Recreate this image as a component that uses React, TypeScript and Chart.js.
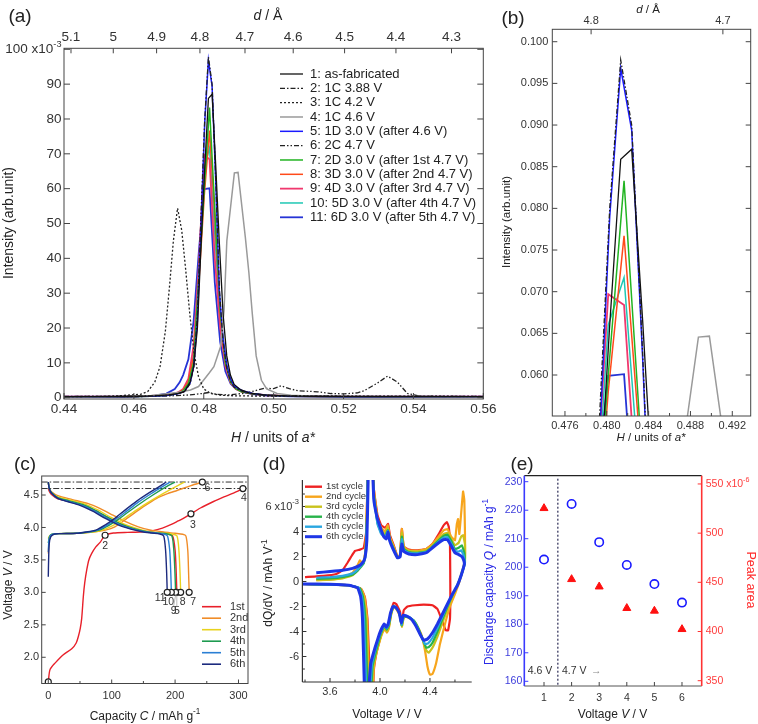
import React, { useEffect, useRef } from "react";
import { Chart, registerables } from "chart.js";
Chart.register(...registerables);

const FONT = '"Liberation Sans", Arial, Helvetica, "DejaVu Sans", sans-serif';

// ================= (a)/(b) XRD data: H (units of a*) vs intensity (x10^-3) =================
const A_LABELS = [
  "1: as-fabricated", "2: 1C 3.88 V", "3: 1C 4.2 V", "4: 1C 4.6 V", "5: 1D 3.0 V (after 4.6 V)",
  "6: 2C 4.7 V", "7: 2D 3.0 V (after 1st 4.7 V)", "8: 3D 3.0 V (after 2nd 4.7 V)",
  "9: 4D 3.0 V (after 3rd 4.7 V)", "10: 5D 3.0 V (after 4th 4.7 V)", "11: 6D 3.0 V (after 5th 4.7 V)",
];
const A_S1: number[][] = [[0.44,0.3],[0.45,0.3],[0.46,0.35],[0.466,0.5],[0.47,0.8],[0.4725,1.2],[0.4745,1.8],[0.4761,4.5],[0.47713,9],[0.47818,20],[0.47923,44],[0.48028,66],[0.48133,85.9],[0.48238,87.1],[0.48343,66.5],[0.48448,44],[0.48553,24],[0.48658,12],[0.48763,6.5],[0.4887,3.8],[0.4905,2.3],[0.493,1.4],[0.497,0.8],[0.503,0.5],[0.51,0.4],[0.53,0.3],[0.56,0.3]];
const A_S2: number[][] = [[0.44,0.4],[0.455,0.4],[0.465,0.5],[0.47,0.7],[0.4725,1.1],[0.4745,1.7],[0.4761,4],[0.47713,9],[0.47818,24],[0.47923,53],[0.48028,80],[0.48133,97.8],[0.48238,90],[0.48343,62.5],[0.48448,31],[0.48553,16],[0.48658,8.5],[0.48763,4.8],[0.4887,3.0],[0.491,1.8],[0.494,1.1],[0.498,0.7],[0.505,0.5],[0.52,0.4],[0.56,0.4]];
const A_S3: number[][] = [[0.44,0.3],[0.45,0.4],[0.455,0.5],[0.459,0.8],[0.462,1.0],[0.464,1.8],[0.466,4.5],[0.4675,9],[0.469,19],[0.4702,32],[0.4713,45],[0.4725,54.4],[0.4737,48],[0.4748,37],[0.476,24],[0.4772,13],[0.4785,6],[0.48,2.5],[0.482,1.2],[0.485,0.7],[0.49,0.5],[0.56,0.4]];
const A_S4: number[][] = [[0.44,0.3],[0.455,0.35],[0.465,0.6],[0.4724,1.5],[0.4762,2.2],[0.4785,3.2],[0.4801,5.2],[0.4815,7],[0.4829,8.9],[0.4848,14.6],[0.4858,25],[0.4866,45],[0.48876,64.55],[0.48981,64.66],[0.4919,46],[0.4929,36],[0.4939,24],[0.495,12],[0.4965,5],[0.498,2.5],[0.501,1.2],[0.505,0.7],[0.51,0.5],[0.56,0.3]];
const A_S5: number[][] = [[0.44,0.3],[0.455,0.3],[0.465,0.45],[0.47,0.7],[0.4725,1.1],[0.4745,1.8],[0.4761,4.2],[0.47713,9],[0.47818,22],[0.47923,50],[0.48028,79],[0.48133,96.8],[0.48238,89.4],[0.48343,62],[0.48448,30],[0.48553,17],[0.48658,9.5],[0.48763,5.5],[0.4887,3.4],[0.491,2.0],[0.494,1.2],[0.498,0.7],[0.505,0.45],[0.52,0.3],[0.56,0.3]];
const A_S6: number[][] = [[0.44,0.3],[0.46,0.3],[0.47,0.5],[0.476,0.8],[0.4795,1.2],[0.4815,1.5],[0.4835,1.0],[0.487,0.8],[0.491,1.2],[0.4935,1.7],[0.4973,2.7],[0.5,2.6],[0.5021,3.4],[0.5045,2.6],[0.5069,2.0],[0.5126,1.7],[0.5164,1.2],[0.5202,1.1],[0.524,1.4],[0.5259,2.0],[0.5297,4.2],[0.5326,6.2],[0.5354,4.5],[0.5383,1.2],[0.5421,0.4],[0.56,0.2]];
const A_S7: number[][] = [[0.44,0.3],[0.455,0.3],[0.465,0.45],[0.47,0.7],[0.4726,1.3],[0.4741,2.0],[0.4756,4],[0.4771,10],[0.4786,35],[0.48014,60],[0.48165,83.3],[0.48316,54],[0.4847,25],[0.4862,10],[0.4877,4.5],[0.4892,2.6],[0.4907,1.8],[0.494,1.1],[0.498,0.7],[0.505,0.45],[0.52,0.3],[0.56,0.3]];
const A_S8: number[][] = [[0.44,0.3],[0.455,0.3],[0.465,0.45],[0.47,0.75],[0.4726,1.4],[0.4741,2.2],[0.4756,4.6],[0.4771,12],[0.4786,33],[0.48014,58],[0.48165,76.7],[0.48316,52],[0.4847,24],[0.4862,10],[0.4877,4.5],[0.4892,2.6],[0.4907,1.8],[0.494,1.1],[0.498,0.7],[0.505,0.45],[0.52,0.3],[0.56,0.3]];
const A_S9: number[][] = [[0.44,0.3],[0.455,0.3],[0.465,0.5],[0.47,0.8],[0.4726,1.5],[0.4741,2.5],[0.4756,5.5],[0.4771,15],[0.4786,38],[0.48014,69.7],[0.48165,68.4],[0.48316,40],[0.4847,20],[0.4862,9],[0.4877,4.3],[0.4892,2.5],[0.4907,1.8],[0.494,1.1],[0.498,0.7],[0.505,0.45],[0.52,0.3],[0.56,0.3]];
const A_S10: number[][] = [[0.44,0.3],[0.455,0.3],[0.465,0.45],[0.47,0.75],[0.4726,1.4],[0.4741,2.2],[0.4756,4.8],[0.4771,12],[0.4786,36],[0.48014,66],[0.48165,71.7],[0.48316,47],[0.4847,22],[0.4862,9.5],[0.4877,4.4],[0.4892,2.6],[0.4907,1.8],[0.494,1.1],[0.498,0.7],[0.505,0.45],[0.52,0.3],[0.56,0.3]];
const A_S11: number[][] = [[0.44,0.3],[0.455,0.3],[0.462,0.45],[0.4661,0.6],[0.4693,1.2],[0.4717,2.5],[0.4731,4.4],[0.4741,6.5],[0.4756,11],[0.4771,22],[0.4786,42],[0.48014,59.9],[0.48165,60.1],[0.48316,33],[0.4847,16],[0.4862,7.5],[0.4877,4],[0.4892,2.5],[0.491,1.7],[0.494,1.0],[0.498,0.6],[0.505,0.4],[0.52,0.3],[0.56,0.3]];
const A_SERIES = [A_S1, A_S2, A_S3, A_S4, A_S5, A_S6, A_S7, A_S8, A_S9, A_S10, A_S11];
const A_COLORS = ["#111111", "#222222", "#222222", "#9a9a9a", "#1a1aff", "#222222", "#22b422", "#ff4a1a", "#f0386e", "#1ec8b4", "#2634d6"];
const A_WIDTHS = [1.3, 1.3, 1.3, 1.5, 1.5, 1.3, 1.5, 1.5, 1.8, 1.5, 1.8];
const A_DASHES = [[], [5, 2, 1.5, 2], [2, 2], [], [], [5, 2, 1.5, 2, 1.5, 2], [], [], [], [], []];

const H_TICKS_A = [0.44, 0.46, 0.48, 0.5, 0.52, 0.54, 0.56];
const I_TICKS_A = [0, 10, 20, 30, 40, 50, 60, 70, 80, 90, 100];
const D_TICK_LABELS_A = ["5.1", "5", "4.9", "4.8", "4.7", "4.6", "4.5", "4.4", "4.3"];
const D_TICK_H_A = [0.442, 0.4541, 0.4665, 0.4789, 0.4918, 0.5056, 0.5203, 0.535, 0.5509];
const H_TICKS_B = [0.476, 0.48, 0.484, 0.488, 0.492];
const H_MINOR_B = [0.478, 0.482, 0.486, 0.49];
const I_TICKS_B = [60, 65, 70, 75, 80, 85, 90, 95, 100];
const D_TICK_LABELS_B = ["4.8", "4.7"];
const D_TICK_H_B = [0.4785, 0.4911];

// ================= (c) charge / discharge curves: capacity (mAh/g) vs voltage =================
const CYCLE_NAMES = ["1st", "2nd", "3rd", "4th", "5th", "6th"];
const C_COLORS = ["#e8202a", "#f08c28", "#e8d21e", "#1e9a50", "#2a7fd4", "#1c2a7e"];
const C1_CH: number[][] = [[0,1.62],[2.7,1.81],[10.6,1.91],[23.7,2.04],[37,2.13],[44,2.22],[47.4,2.32],[50.5,2.45],[52.7,2.6],[55.3,2.94],[57.5,3.15],[60.7,3.35],[64,3.5],[68.5,3.6],[75,3.7],[81.7,3.77],[89.6,3.88],[102.7,3.915],[125,3.925],[145,3.93],[165,3.95],[180,3.99],[195,4.05],[205,4.1],[215,4.15],[225,4.21],[240,4.3],[260.7,4.4],[277,4.47],[292,4.53],[307,4.6]];
const C2_CH: number[][] = [[0,3.6],[1,3.75],[3,3.86],[8,3.9],[20,3.905],[45,3.91],[70,3.93],[90,3.96],[105,4.01],[124,4.14],[150,4.32],[171,4.45],[188,4.52],[203,4.57],[225,4.645],[243,4.7]];
const C3_CH: number[][] = [[0,3.83],[2,3.87],[6,3.895],[15,3.905],[45,3.91],[70,3.93],[85,3.96],[100,4.02],[115,4.11],[130,4.21],[150,4.34],[170,4.46],[190,4.57],[205,4.65],[215,4.7]];
const C4_CH: number[][] = [[0,3.76],[2,3.86],[6,3.895],[15,3.905],[45,3.91],[65,3.93],[80,3.96],[95,4.03],[110,4.12],[125,4.23],[145,4.37],[165,4.5],[185,4.62],[200,4.7]];
const C5_CH: number[][] = [[0,3.62],[1,3.8],[3,3.87],[8,3.9],[20,3.905],[45,3.91],[62,3.93],[77,3.96],[92,4.03],[107,4.13],[122,4.24],[142,4.39],[162,4.52],[180,4.63],[192,4.7]];
const C6_CH: number[][] = [[0,3.24],[0.5,3.5],[1.5,3.75],[4,3.86],[10,3.9],[20,3.905],[45,3.91],[60,3.93],[75,3.96],[90,4.04],[105,4.14],[120,4.26],[140,4.41],[160,4.54],[175,4.63],[186,4.7]];
const C1_DC: number[][] = [[0,4.6],[2,4.55],[6,4.5],[15,4.44],[33,4.4],[52,4.35],[72,4.27],[92,4.16],[112,4.06],[132,3.99],[152,3.94],[172,3.915],[188,3.9],[196,3.87],[200,3.65],[201.8,3.3],[202.7,3.0]];
const C2_DC: number[][] = [[0,4.7],[1.5,4.6],[5,4.55],[15,4.49],[38,4.43],[62,4.37],[82,4.29],[102,4.19],[122,4.09],[142,4.01],[162,3.96],[182,3.93],[200,3.91],[212,3.895],[217,3.87],[220,3.65],[221.3,3.3],[222.2,3.0]];
const C3_DC: number[][] = [[0,4.7],[1.5,4.6],[5,4.54],[15,4.47],[35,4.42],[58,4.36],[78,4.27],[98,4.16],[118,4.06],[138,3.99],[158,3.94],[178,3.915],[195,3.9],[203,3.87],[206,3.65],[207.8,3.3],[208.8,3.0]];
const C4_DC: number[][] = [[0,4.7],[1.5,4.6],[5,4.54],[15,4.46],[33,4.41],[55,4.35],[75,4.26],[95,4.15],[115,4.05],[135,3.98],[155,3.935],[172,3.915],[188,3.9],[195,3.87],[198,3.65],[199.8,3.3],[200.8,3.0]];
const C5_DC: number[][] = [[0,4.7],[1.5,4.6],[5,4.53],[15,4.45],[32,4.4],[53,4.34],[73,4.25],[93,4.14],[113,4.04],[133,3.975],[152,3.935],[168,3.915],[182,3.9],[188,3.87],[191.5,3.65],[193.2,3.3],[194.1,3.0]];
const C6_DC: number[][] = [[0,4.7],[1.5,4.6],[5,4.53],[15,4.45],[30,4.4],[50,4.34],[70,4.25],[90,4.14],[110,4.04],[130,3.975],[148,3.935],[163,3.915],[176,3.9],[182,3.87],[185,3.65],[186.7,3.3],[187.6,3.0]];
const C_CHARGE = [C1_CH, C2_CH, C3_CH, C4_CH, C5_CH, C6_CH];
const C_DISCHARGE = [C1_DC, C2_DC, C3_DC, C4_DC, C5_DC, C6_DC];
const C_REF_V = [4.6, 4.7];
const MK_C = [0, 89.6, 225, 307, 202.7, 243, 222.2, 208.8, 200.8, 194.1, 187.6];
const MK_V = [1.62, 3.88, 4.21, 4.6, 3.0, 4.7, 3.0, 3.0, 3.0, 3.0, 3.0];
const MK_LABEL = ["", "2", "3", "4", "5", "6", "7", "8", "9", "10", "11"];
const MK_OFFSET = [[0, 0], [0, 11], [2, 11], [1, 10], [0, 19], [5, 6], [4, 10], [2, 10], [-2, 19], [-3, 10], [-7, 6]];

// ================= (d) dQ/dV (x10^-3 mAh/V) vs voltage, one loop per cycle =================
const D_COLORS = ["#ee2222", "#f7a51c", "#c9c21c", "#28b34a", "#2aa6e0", "#1e36e6"];
const D_CYC1: number[][] = [[3.4,0.35],[3.55,0.45],[3.65,0.6],[3.7,0.9],[3.74,1.5],[3.77,2.0],[3.8,2.45],[3.84,2.55],[3.87,2.7],[3.89,4],[3.905,10],[3.915,20],[3.93,12],[3.95,7.5],[3.98,5.3],[4.01,4.5],[4.04,4.3],[4.065,4.6],[4.08,3.7],[4.11,2.9],[4.14,2.0],[4.16,2.1],[4.175,4.2],[4.19,2.8],[4.23,2.55],[4.3,2.5],[4.37,2.6],[4.42,3.0],[4.47,3.8],[4.51,4.5],[4.535,4.75],[4.55,4.4],[4.56,3.0],[4.562,1.0],[4.563,-1.0],[4.56,-3.0],[4.545,-3.9],[4.525,-3.9],[4.5,-3.2],[4.46,-2.2],[4.42,-1.9],[4.35,-1.85],[4.28,-1.9],[4.22,-2.0],[4.19,-2.3],[4.175,-3.3],[4.16,-2.4],[4.13,-1.8],[4.11,-1.7],[4.09,-2.3],[4.07,-3.6],[4.05,-3.9],[4.035,-3.6],[4.02,-3.9],[4.0,-4.6],[3.97,-5.8],[3.95,-7.2],[3.935,-12],[3.92,-8],[3.9,-3],[3.88,-1.3],[3.85,-0.6],[3.75,-0.3],[3.6,-0.25],[3.38,-0.2]];
const D_CYC2: number[][] = [[3.49,0.1],[3.6,0.15],[3.7,0.3],[3.78,0.7],[3.82,1.3],[3.84,1.7],[3.855,1.5],[3.87,1.6],[3.885,2.8],[3.9,8],[3.912,20],[3.93,13],[3.95,7.5],[3.98,5.0],[4.01,4.3],[4.04,4.0],[4.062,4.5],[4.078,3.6],[4.11,2.8],[4.14,2.0],[4.16,2.1],[4.175,4.2],[4.19,2.8],[4.23,2.5],[4.3,2.45],[4.37,2.6],[4.42,3.0],[4.47,3.6],[4.51,4.1],[4.54,4.2],[4.57,3.6],[4.6,3.3],[4.615,4.6],[4.625,5.0],[4.635,3.8],[4.65,5.5],[4.665,7.2],[4.675,6.5],[4.68,4.0],[4.68,1.8],[4.66,0.8],[4.63,-0.2],[4.6,-1.0],[4.56,-2.0],[4.52,-3.4],[4.48,-5.0],[4.45,-6.5],[4.42,-7.4],[4.4,-7.45],[4.38,-6.8],[4.36,-5.5],[4.33,-4.2],[4.29,-3.4],[4.25,-3.0],[4.21,-2.8],[4.19,-2.9],[4.175,-3.6],[4.16,-2.8],[4.13,-2.2],[4.11,-2.0],[4.09,-2.6],[4.07,-3.8],[4.055,-4.1],[4.04,-3.8],[4.02,-4.1],[4.0,-4.7],[3.97,-5.8],[3.95,-7.0],[3.925,-12],[3.912,-8],[3.897,-3],[3.878,-1.3],[3.85,-0.6],[3.75,-0.3],[3.6,-0.25],[3.38,-0.2]];
const D_CYC3: number[][] = [[3.49,0.1],[3.6,0.15],[3.7,0.25],[3.78,0.5],[3.82,0.9],[3.85,1.3],[3.87,1.5],[3.885,2.5],[3.9,7],[3.913,20],[3.93,13],[3.95,7.2],[3.98,4.9],[4.01,4.1],[4.04,3.8],[4.063,4.3],[4.078,3.5],[4.11,2.7],[4.14,1.95],[4.16,2.05],[4.175,3.9],[4.19,2.7],[4.23,2.45],[4.3,2.4],[4.37,2.5],[4.42,2.9],[4.47,3.4],[4.51,3.8],[4.54,3.9],[4.57,3.4],[4.6,2.9],[4.63,3.1],[4.65,3.6],[4.665,3.7],[4.68,3.0],[4.68,1.6],[4.65,0.6],[4.62,-0.3],[4.58,-1.2],[4.54,-2.2],[4.5,-3.3],[4.46,-4.4],[4.42,-5.3],[4.39,-5.7],[4.37,-5.5],[4.34,-4.6],[4.3,-3.7],[4.26,-3.1],[4.22,-2.85],[4.19,-2.85],[4.175,-3.6],[4.16,-2.7],[4.13,-2.15],[4.11,-2.0],[4.09,-2.6],[4.07,-3.7],[4.055,-4.0],[4.04,-3.7],[4.02,-4.0],[4.0,-4.6],[3.97,-5.7],[3.945,-7.0],[3.92,-12],[3.905,-8],[3.89,-3],[3.87,-1.3],[3.84,-0.6],[3.75,-0.3],[3.6,-0.25],[3.38,-0.2]];
const D_CYC4: number[][] = [[3.49,0.2],[3.6,0.25],[3.7,0.35],[3.78,0.55],[3.82,0.85],[3.85,1.2],[3.87,1.45],[3.885,2.3],[3.9,6.5],[3.913,20],[3.93,12.5],[3.95,7.0],[3.98,4.7],[4.01,3.9],[4.04,3.6],[4.063,4.1],[4.078,3.35],[4.11,2.6],[4.14,1.9],[4.16,2.0],[4.175,3.6],[4.19,2.6],[4.23,2.35],[4.3,2.3],[4.37,2.4],[4.42,2.8],[4.47,3.3],[4.51,3.65],[4.54,3.75],[4.57,3.25],[4.6,2.6],[4.63,2.7],[4.655,2.9],[4.675,2.3],[4.68,1.5],[4.65,0.5],[4.62,-0.3],[4.58,-1.1],[4.54,-2.0],[4.5,-3.0],[4.46,-4.0],[4.42,-4.9],[4.39,-5.25],[4.37,-5.3],[4.345,-4.7],[4.31,-3.8],[4.27,-3.1],[4.23,-2.85],[4.19,-2.8],[4.173,-3.5],[4.158,-2.65],[4.13,-2.1],[4.11,-1.95],[4.09,-2.5],[4.07,-3.55],[4.053,-3.85],[4.038,-3.55],[4.02,-3.85],[4.0,-4.4],[3.97,-5.5],[3.94,-6.8],[3.912,-12],[3.898,-8],[3.883,-3],[3.863,-1.2],[3.84,-0.55],[3.75,-0.3],[3.6,-0.25],[3.38,-0.2]];
const D_CYC5: number[][] = [[3.49,0.3],[3.6,0.35],[3.7,0.45],[3.78,0.65],[3.82,0.95],[3.85,1.3],[3.87,1.55],[3.885,2.2],[3.9,6],[3.912,20],[3.93,12],[3.95,6.8],[3.98,4.6],[4.01,3.8],[4.04,3.5],[4.064,4.05],[4.078,3.3],[4.11,2.55],[4.14,1.9],[4.16,1.95],[4.175,3.4],[4.19,2.5],[4.23,2.3],[4.3,2.25],[4.37,2.35],[4.42,2.75],[4.47,3.2],[4.51,3.5],[4.54,3.55],[4.57,3.05],[4.6,2.45],[4.63,2.4],[4.65,2.5],[4.67,2.1],[4.68,1.5],[4.65,0.5],[4.62,-0.3],[4.58,-1.05],[4.54,-1.9],[4.5,-2.8],[4.46,-3.7],[4.42,-4.5],[4.385,-4.95],[4.36,-5.0],[4.335,-4.5],[4.3,-3.7],[4.26,-3.05],[4.22,-2.8],[4.19,-2.75],[4.172,-3.45],[4.157,-2.6],[4.13,-2.1],[4.108,-1.95],[4.088,-2.5],[4.068,-3.5],[4.052,-3.75],[4.036,-3.5],[4.018,-3.8],[3.998,-4.3],[3.965,-5.4],[3.935,-6.7],[3.9,-12],[3.888,-8],[3.872,-3],[3.855,-1.2],[3.83,-0.5],[3.75,-0.3],[3.6,-0.25],[3.38,-0.2]];
const D_CYC6: number[][] = [[3.49,0.7],[3.6,0.8],[3.7,0.9],[3.78,1.05],[3.83,1.25],[3.86,1.5],[3.88,1.9],[3.895,3.3],[3.905,8],[3.915,20],[3.93,12],[3.95,6.6],[3.975,5.2],[4.0,4.4],[4.03,3.6],[4.05,3.4],[4.065,3.95],[4.078,3.25],[4.1,2.7],[4.14,1.9],[4.16,1.95],[4.175,3.0],[4.19,2.4],[4.23,2.2],[4.3,2.15],[4.37,2.3],[4.42,2.7],[4.47,3.1],[4.51,3.35],[4.54,3.35],[4.57,2.85],[4.6,2.3],[4.63,2.15],[4.655,2.0],[4.67,1.7],[4.675,1.4],[4.65,0.5],[4.62,-0.3],[4.58,-1.0],[4.54,-1.8],[4.5,-2.6],[4.46,-3.4],[4.42,-4.1],[4.38,-4.6],[4.35,-4.7],[4.325,-4.3],[4.29,-3.6],[4.25,-3.0],[4.21,-2.75],[4.187,-2.7],[4.17,-3.3],[4.155,-2.55],[4.13,-2.1],[4.105,-2.0],[4.085,-2.5],[4.065,-3.4],[4.05,-3.65],[4.034,-3.4],[4.016,-3.7],[3.995,-4.2],[3.96,-5.3],[3.925,-6.6],[3.885,-12],[3.874,-8],[3.86,-3],[3.845,-1.2],[3.82,-0.5],[3.75,-0.3],[3.6,-0.22],[3.38,-0.2]];
const D_CYCLES = [D_CYC1, D_CYC2, D_CYC3, D_CYC4, D_CYC5, D_CYC6];

// ================= (e) discharge capacity and peak area per cycle =================
const E_CYCLE = [1, 2, 3, 4, 5, 6];
const E_CAPACITY = [202.7, 222.2, 208.8, 200.8, 194.1, 187.6];
const E_PEAK_AREA = [525.3, 453.1, 445.6, 423.7, 421.0, 402.3];

// ================= helpers =================
type Seg = { t: string; it?: boolean; sup?: boolean };
function rich(ctx: any, segs: Seg[], x: number, y: number, size: number, align: string, color: string, rot = 0) {
  ctx.save();
  ctx.translate(x, y);
  if (rot) ctx.rotate(rot);
  const fontFor = (s: Seg) => `${s.it ? "italic " : ""}${s.sup ? size * 0.68 : size}px ${FONT}`;
  let total = 0;
  const widths = segs.map((s) => { ctx.font = fontFor(s); const w = ctx.measureText(s.t).width; total += w; return w; });
  let cx = align === "left" ? 0 : align === "center" ? -total / 2 : -total;
  ctx.fillStyle = color;
  ctx.textBaseline = "middle";
  ctx.textAlign = "left";
  segs.forEach((s, i) => { ctx.font = fontFor(s); ctx.fillText(s.t, cx, s.sup ? -size * 0.38 : 0); cx += widths[i]; });
  ctx.restore();
}
function seg(ctx: any, x1: number, y1: number, x2: number, y2: number, color: string, lw = 1, dash: number[] = []) {
  ctx.save(); ctx.strokeStyle = color; ctx.lineWidth = lw; ctx.setLineDash(dash);
  ctx.beginPath(); ctx.moveTo(x1, y1); ctx.lineTo(x2, y2); ctx.stroke(); ctx.restore();
}
function ticksIn(ctx: any, ca: any, scale: any, vals: number[], side: string, len: number, color = "#333", lw = 1) {
  ctx.save(); ctx.strokeStyle = color; ctx.lineWidth = lw; ctx.beginPath();
  for (const v of vals) {
    const p = scale.getPixelForValue(v);
    if (side === "left") { ctx.moveTo(ca.left, p); ctx.lineTo(ca.left + len, p); }
    else if (side === "right") { ctx.moveTo(ca.right, p); ctx.lineTo(ca.right - len, p); }
    else if (side === "bottom") { ctx.moveTo(p, ca.bottom); ctx.lineTo(p, ca.bottom - len); }
    else { ctx.moveTo(p, ca.top); ctx.lineTo(p, ca.top + len); }
  }
  ctx.stroke(); ctx.restore();
}
function frame(ctx: any, ca: any, color = "#333", lw = 1) {
  ctx.save(); ctx.strokeStyle = color; ctx.lineWidth = lw;
  ctx.strokeRect(ca.left, ca.top, ca.right - ca.left, ca.bottom - ca.top); ctx.restore();
}
// every axis gets a fixed box size; the layout padding is the plot edge minus that box
function mkScale(o: any) {
  const horiz = o.position === "top" || o.position === "bottom";
  return {
    type: "linear", position: o.position, min: o.min, max: o.max,
    grid: { display: false, drawTicks: false },
    border: { display: false },
    ticks: {
      display: o.show !== false, autoSkip: false, maxRotation: 0, minRotation: 0,
      padding: o.pad ?? 3, color: o.color ?? "#333",
      font: { family: FONT, size: o.size ?? 11 },
      callback: (v: any, i: number) => (o.fmt ? o.fmt(Number(v), i) : String(v)),
    },
    afterBuildTicks: (s: any) => { s.ticks = o.ticks.map((v: number) => ({ value: v })); },
    afterFit: (s: any) => { if (horiz) s.height = o.box ?? 0; else s.width = o.box ?? 0; },
  };
}
const pts = (arr: number[][]) => arr.map(([x, y]) => ({ x, y }));
const baseOptions = (padding: any, scales: any) => ({
  responsive: false, animation: false, events: [],
  layout: { padding },
  plugins: { legend: { display: false }, tooltip: { enabled: false }, title: { display: false } },
  scales,
});
// plot edges (l, t, r, b) in page pixels and the axis box sizes on each side
const area = (l: number, t: number, r: number, b: number, bl: number, bt: number, br: number, bb: number) =>
  ({ left: l - bl, top: t - bt, right: 758 - r - br, bottom: 724 - b - bb });

// ================= chart configs =================
function xrdDatasets() {
  return A_SERIES.map((s, i) => ({
    data: pts(s), borderColor: A_COLORS[i], borderWidth: A_WIDTHS[i], borderDash: A_DASHES[i],
    pointRadius: 0, fill: false, tension: 0, xAxisID: "x", yAxisID: "y",
  }));
}

function configA(): any {
  return {
    type: "line",
    data: { datasets: xrdDatasets() },
    options: baseOptions(area(64, 48.3, 483.3, 399, 60, 40, 0, 30), {
      x: mkScale({ position: "bottom", box: 30, min: 0.44, max: 0.56, ticks: H_TICKS_A, size: 13.5, pad: 2.2, fmt: (v: number) => v.toFixed(2) }),
      xTop: mkScale({ position: "top", box: 40, min: 0.44, max: 0.56, ticks: D_TICK_H_A, size: 13.5, pad: 2.6, fmt: (_v: number, i: number) => D_TICK_LABELS_A[i] }),
      y: mkScale({ position: "left", box: 60, min: -0.373, max: 100.29, ticks: I_TICKS_A, size: 13.5, pad: 2.5, fmt: (v: number) => (v === 100 ? "" : String(v)) }),
      yR: mkScale({ position: "right", box: 0, min: -0.373, max: 100.29, ticks: I_TICKS_A, show: false }),
    }),
    plugins: [{
      id: "decorA",
      afterDraw(chart: any) {
        const ctx = chart.ctx, ca = chart.chartArea, sx = chart.scales.x, sy = chart.scales.y;
        frame(ctx, ca, "#444");
        ticksIn(ctx, ca, sy, I_TICKS_A, "left", 6, "#444");
        ticksIn(ctx, ca, sy, I_TICKS_A, "right", 6, "#444");
        ticksIn(ctx, ca, sx, H_TICKS_A, "bottom", 6, "#444");
        ticksIn(ctx, ca, sx, D_TICK_H_A, "top", 5, "#444");
        rich(ctx, [{ t: "100 x10" }, { t: "-3", sup: true }], ca.left - 2.5, sy.getPixelForValue(100), 13.5, "right", "#333");
        rich(ctx, [{ t: "Intensity (arb.unit)" }], 9, 223, 14, "center", "#222", -Math.PI / 2);
        rich(ctx, [{ t: "H", it: true }, { t: " / units of " }, { t: "a*", it: true }], 273, 438, 14, "center", "#222");
        rich(ctx, [{ t: "d", it: true }, { t: " / Å" }], 268, 16, 14, "center", "#222");
        rich(ctx, [{ t: "(a)" }], 20, 17, 19, "center", "#222");
        A_LABELS.forEach((lab, i) => {
          const y = 74 + i * 14.33;
          seg(ctx, 280, y, 303, y, A_COLORS[i], A_WIDTHS[i], A_DASHES[i]);
          rich(ctx, [{ t: lab }], 310, y, 13, "left", "#222");
        });
      },
    }],
  };
}

function configB(): any {
  return {
    type: "line",
    data: { datasets: xrdDatasets() },
    options: baseOptions(area(552.3, 29.3, 750.7, 416, 40, 25, 0, 25), {
      x: mkScale({ position: "bottom", box: 25, min: 0.47479, max: 0.49376, ticks: H_TICKS_B, size: 11, pad: 3.4, fmt: (v: number) => v.toFixed(3) }),
      xTop: mkScale({ position: "top", box: 25, min: 0.47479, max: 0.49376, ticks: D_TICK_H_B, size: 11, pad: 2, fmt: (_v: number, i: number) => D_TICK_LABELS_B[i] }),
      y: mkScale({ position: "left", box: 40, min: 55.08, max: 101.49, ticks: I_TICKS_B, size: 11, pad: 4, fmt: (v: number) => (v / 1000).toFixed(3) }),
      yR: mkScale({ position: "right", box: 0, min: 55.08, max: 101.49, ticks: I_TICKS_B, show: false }),
    }),
    plugins: [{
      id: "decorB",
      afterDraw(chart: any) {
        const ctx = chart.ctx, ca = chart.chartArea, sx = chart.scales.x, sy = chart.scales.y;
        frame(ctx, ca, "#444");
        ticksIn(ctx, ca, sy, I_TICKS_B, "left", 5, "#444");
        ticksIn(ctx, ca, sy, I_TICKS_B, "right", 5, "#444");
        ticksIn(ctx, ca, sx, H_TICKS_B, "bottom", 5, "#444");
        ticksIn(ctx, ca, sx, H_MINOR_B, "bottom", 3, "#444");
        ticksIn(ctx, ca, sx, D_TICK_H_B, "top", 5, "#444");
        rich(ctx, [{ t: "Intensity (arb.unit)" }], 507, 222, 11.5, "center", "#222", -Math.PI / 2);
        rich(ctx, [{ t: "H", it: true }, { t: " / units of " }, { t: "a*", it: true }], 651, 438, 11.5, "center", "#222");
        rich(ctx, [{ t: "d", it: true }, { t: " / Å" }], 648, 10, 11.5, "center", "#222");
        rich(ctx, [{ t: "(b)" }], 513, 19, 19, "center", "#222");
      },
    }],
  };
}

function configC(): any {
  const datasets: any[] = [{
    data: pts(MK_C.map((c, i) => [c, MK_V[i]])), showLine: false, pointRadius: 3, pointBorderWidth: 1.2,
    pointBorderColor: "#222", pointBackgroundColor: "#fff", borderColor: "#222",
  }];
  for (let k = 5; k >= 0; k--) {
    datasets.push({ data: pts(C_CHARGE[k]), borderColor: C_COLORS[k], borderWidth: 1.4, pointRadius: 0, tension: 0.25 });
    datasets.push({ data: pts(C_DISCHARGE[k]), borderColor: C_COLORS[k], borderWidth: 1.4, pointRadius: 0, tension: 0.25 });
  }
  return {
    type: "line",
    data: { datasets },
    options: baseOptions(area(41.7, 476, 248, 683.5, 38, 0, 0, 24), {
      x: mkScale({ position: "bottom", box: 24, min: -10.4, max: 315, ticks: [0, 100, 200, 300], size: 11, pad: 6 }),
      y: mkScale({ position: "left", box: 38, min: 1.596, max: 4.793, ticks: [2, 2.5, 3, 3.5, 4, 4.5], size: 11, pad: 2.6, fmt: (v: number) => v.toFixed(1) }),
    }),
    plugins: [{
      id: "decorC",
      beforeDatasetsDraw(chart: any) {
        const ctx = chart.ctx, ca = chart.chartArea, sy = chart.scales.y;
        C_REF_V.forEach((v) => { const p = sy.getPixelForValue(v); seg(ctx, ca.left, p, ca.right, p, "#333", 1, [6, 2, 1.5, 2]); });
      },
      afterDraw(chart: any) {
        const ctx = chart.ctx, ca = chart.chartArea, sx = chart.scales.x, sy = chart.scales.y;
        frame(ctx, ca, "#444");
        ticksIn(ctx, ca, sy, [2, 2.5, 3, 3.5, 4, 4.5], "left", 4, "#444");
        ticksIn(ctx, ca, sx, [0, 100, 200, 300], "bottom", 4, "#444");
        ticksIn(ctx, ca, sx, [50, 150, 250], "bottom", 2.5, "#444");
        MK_LABEL.forEach((lab, i) => {
          if (!lab) return;
          const px = sx.getPixelForValue(MK_C[i]), py = sy.getPixelForValue(MK_V[i]);
          const lx = px + MK_OFFSET[i][0], ly = py + MK_OFFSET[i][1];
          if (MK_OFFSET[i][1] > 15) seg(ctx, lx, ly - 5, px, py + 3, "#aaa", 0.8);
          rich(ctx, [{ t: lab }], lx, ly, 10.5, "center", "#333");
        });
        CYCLE_NAMES.forEach((n, i) => {
          const y = 606.7 + i * 11.5;
          seg(ctx, 202, y, 221, y, C_COLORS[i], 1.6);
          rich(ctx, [{ t: n }], 230, y, 11, "left", "#333");
        });
        rich(ctx, [{ t: "Voltage " }, { t: "V", it: true }, { t: " / V" }], 9, 585, 12, "center", "#222", -Math.PI / 2);
        rich(ctx, [{ t: "Capacity " }, { t: "C", it: true }, { t: " / mAh g" }, { t: "-1", sup: true }], 145, 716.5, 12, "center", "#222");
        rich(ctx, [{ t: "(c)" }], 25, 465, 19, "center", "#222");
      },
    }],
  };
}

function configD(): any {
  const datasets: any[] = [];
  for (let k = 5; k >= 0; k--) {
    datasets.push({ data: pts(D_CYCLES[k]), borderColor: D_COLORS[k], borderWidth: k === 5 ? 3 : 2.2, pointRadius: 0, tension: 0.1 });
  }
  return {
    type: "line",
    data: { datasets },
    options: baseOptions(area(302.4, 480, 471.7, 682, 40, 0, 0, 22), {
      x: mkScale({ position: "bottom", box: 22, min: 3.379, max: 4.734, ticks: [3.6, 4.0, 4.4], size: 11, pad: 3, fmt: (v: number) => v.toFixed(1) }),
      y: mkScale({ position: "left", box: 40, min: -8.04, max: 8.12, ticks: [-6, -4, -2, 0, 2, 4, 6], size: 11, pad: 3.4, fmt: (v: number) => (v === 6 ? "" : String(v)) }),
    }),
    plugins: [{
      id: "decorD",
      afterDraw(chart: any) {
        const ctx = chart.ctx, ca = chart.chartArea, sx = chart.scales.x, sy = chart.scales.y;
        seg(ctx, ca.left, ca.top, ca.left, ca.bottom, "#333", 1.2);
        seg(ctx, ca.left, ca.bottom, ca.right, ca.bottom, "#333", 1.2);
        ticksIn(ctx, ca, sy, [-6, -4, -2, 0, 2, 4, 6], "left", 4, "#333");
        ticksIn(ctx, ca, sy, [-7, -5, -3, -1, 1, 3, 5, 7], "left", 2.5, "#333");
        ticksIn(ctx, ca, sx, [3.6, 4.0, 4.4], "bottom", 4, "#333");
        ticksIn(ctx, ca, sx, [3.4, 3.8, 4.2, 4.6], "bottom", 2.5, "#333");
        rich(ctx, [{ t: "6 x10" }, { t: "-3", sup: true }], ca.left - 3.4, sy.getPixelForValue(6), 11, "right", "#333");
        CYCLE_NAMES.forEach((n, i) => {
          const y = 486.7 + i * 10;
          seg(ctx, 305, y, 322, y, D_COLORS[i], i === 5 ? 3 : 2.4);
          rich(ctx, [{ t: n + " cycle" }], 326, y, 9.5, "left", "#333");
        });
        rich(ctx, [{ t: "dQ/dV / mAh V" }, { t: "-1", sup: true }], 269, 583, 12, "center", "#222", -Math.PI / 2);
        rich(ctx, [{ t: "Voltage " }, { t: "V", it: true }, { t: " / V" }], 387, 715, 12, "center", "#222");
        rich(ctx, [{ t: "(d)" }], 274, 465, 19, "center", "#222");
      },
    }],
  };
}

function configE(): any {
  return {
    type: "line",
    data: {
      datasets: [
        { data: pts(E_CYCLE.map((c, i) => [c, E_PEAK_AREA[i]])), yAxisID: "y2", showLine: false, pointStyle: "triangle",
          pointRadius: 4.6, pointBorderWidth: 1, pointBackgroundColor: "#ff1010", pointBorderColor: "#ff1010", borderColor: "#ff1010" },
        { data: pts(E_CYCLE.map((c, i) => [c, E_CAPACITY[i]])), yAxisID: "y", showLine: false, pointStyle: "circle",
          pointRadius: 4.2, pointBorderWidth: 1.6, pointBackgroundColor: "rgba(0,0,0,0)", pointBorderColor: "#1a1aff", borderColor: "#1a1aff" },
      ],
    },
    options: baseOptions(area(524.3, 475.7, 701.7, 686, 30, 0, 45, 22), {
      x: mkScale({ position: "bottom", box: 22, min: 0.286, max: 6.714, ticks: E_CYCLE, size: 10.5, pad: 5.4 }),
      y: mkScale({ position: "left", box: 30, min: 158.35, max: 232.1, ticks: [160, 170, 180, 190, 200, 210, 220, 230], size: 10.5, pad: 2, color: "#3c3cdc" }),
      y2: mkScale({ position: "right", box: 45, min: 344.6, max: 558.4, ticks: [350, 400, 450, 500, 550], size: 10.5, pad: 4, color: "#ff3a3a", fmt: (v: number) => (v === 550 ? "" : String(v)) }),
    }),
    plugins: [{
      id: "decorE",
      beforeDatasetsDraw(chart: any) {
        const ctx = chart.ctx, ca = chart.chartArea, sx = chart.scales.x;
        const p = sx.getPixelForValue(1.5);
        seg(ctx, p, ca.top + 3, p, ca.bottom, "#555577", 1.5, [2, 2]);
      },
      afterDraw(chart: any) {
        const ctx = chart.ctx, ca = chart.chartArea, sx = chart.scales.x, sy = chart.scales.y, sy2 = chart.scales.y2;
        seg(ctx, ca.left, ca.top, ca.right, ca.top, "#222", 1.2);
        seg(ctx, ca.left, ca.bottom, ca.right, ca.bottom, "#555", 1);
        seg(ctx, ca.left, ca.top, ca.left, ca.bottom, "#3a3aff", 1.6);
        seg(ctx, ca.right, ca.top, ca.right, ca.bottom, "#ff3333", 1.6);
        ticksIn(ctx, ca, sy, [160, 170, 180, 190, 200, 210, 220, 230], "left", 4, "#3a3aff");
        ticksIn(ctx, ca, sy2, [350, 400, 450, 500, 550], "right", 4, "#ff3333");
        ticksIn(ctx, ca, sx, E_CYCLE, "bottom", 4, "#444");
        rich(ctx, [{ t: "550 x10" }, { t: "-6", sup: true }], ca.right + 4, sy2.getPixelForValue(550), 10.5, "left", "#ff3a3a");
        rich(ctx, [{ t: "4.6 V" }], 540, 671, 10.5, "center", "#333");
        rich(ctx, [{ t: "4.7 V " }], 562, 671, 10.5, "left", "#333");
        rich(ctx, [{ t: "→" }], 591, 671, 10.5, "left", "#888");
        rich(ctx, [{ t: "Discharge capacity " }, { t: "Q", it: true }, { t: " / mAh g" }, { t: "-1", sup: true }], 490, 582, 12, "center", "#2a2ae6", -Math.PI / 2);
        rich(ctx, [{ t: "Peak area" }], 750, 580, 12.5, "center", "#ff2a2a", Math.PI / 2);
        rich(ctx, [{ t: "Voltage " }, { t: "V", it: true }, { t: " / V" }], 612.5, 715, 12, "center", "#222");
        rich(ctx, [{ t: "(e)" }], 522, 465, 19, "center", "#222");
      },
    }],
  };
}

export default function App() {
  const r1 = useRef<HTMLCanvasElement>(null);
  const r2 = useRef<HTMLCanvasElement>(null);
  const r3 = useRef<HTMLCanvasElement>(null);
  const r4 = useRef<HTMLCanvasElement>(null);
  const r5 = useRef<HTMLCanvasElement>(null);
  useEffect(() => {
    const makers = [configA, configB, configC, configD, configE];
    const refs = [r1, r2, r3, r4, r5];
    const charts = refs.map((r, i) => new Chart(r.current as HTMLCanvasElement, makers[i]()));
    return () => charts.forEach((c) => c.destroy());
  }, []);
  const cs: any = { position: "absolute", left: 0, top: 0, width: 758, height: 724 };
  return (
    <div style={{ position: "absolute", left: 0, top: 0, width: 758, height: 724, background: "#fff", overflow: "hidden" }}>
      <canvas ref={r1} width={758} height={724} style={cs} />
      <canvas ref={r2} width={758} height={724} style={cs} />
      <canvas ref={r3} width={758} height={724} style={cs} />
      <canvas ref={r4} width={758} height={724} style={cs} />
      <canvas ref={r5} width={758} height={724} style={cs} />
    </div>
  );
}
